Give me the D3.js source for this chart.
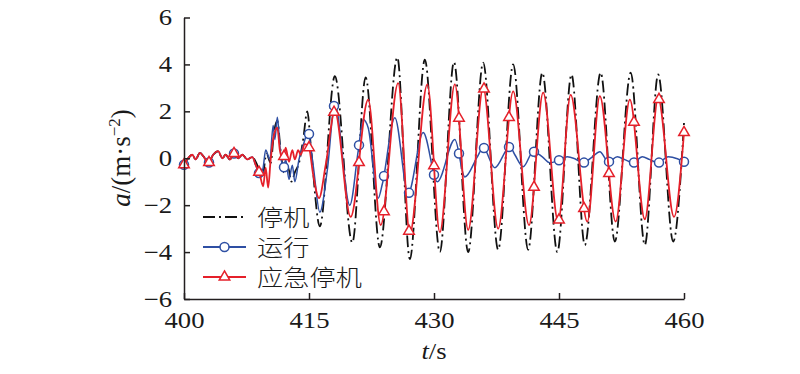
<!DOCTYPE html>
<html>
<head>
<meta charset="utf-8">
<script src="https://cdn.jsdelivr.net/npm/d3@7"></script>
<style>
  body { margin: 0; background: #fff; }
  svg text { fill: #1a1a1a; }
  .serif { font-family: "Liberation Serif", "Times New Roman", Times, "DejaVu Serif", serif; }
</style>
</head>
<body>
<div id="chart"></div>
<script>
// t (s), a (m/s^2); before ~409 s the three records lie on top of each other
const stopData = [
  [400,-0.28],[400.5,0],[401,0.15],[401.4,-0.05],[401.9,0.23],[402.4,0.05],[402.9,-0.2],
  [403.5,0.15],[404.1,0.3],[404.6,0],[405,0.15],[405.5,-0.05],[406,0.2],[406.5,0],[407,0.15],
  [407.6,-0.05],[408.2,0.05],[408.8,-0.3],[409.4,-0.8],[409.9,0.2],[410.4,-0.2],[410.8,1.1],
  [411.2,1.6],[411.6,0.3],[412,-0.6],[412.5,-0.4],[412.9,-1.0],[413.3,-0.6],[413.8,-0.2],
  [414.3,0.8],[414.8,2.0],[415.2,0.6],[416.3,-2.9],[418.1,3.5],[420.2,-3.6],[421.8,3.45],
  [423.5,-3.8],[425.6,4.3],[427.1,-4.3],[428.9,4.2],[430.7,-4.0],[432.4,4.1],[434.1,-4.0],
  [435.9,4.08],[437.7,-3.9],[439.5,4.0],[441.3,-3.9],[443.0,3.65],[444.8,-4.0],[446.5,3.57],
  [448.1,-3.7],[450.0,3.65],[451.7,-3.55],[453.6,3.65],[455.3,-3.7],[456.9,3.57],[458.7,-3.55],
  [460,1.5]
];
const runData = [
  [400,-0.28],[400.5,0],[401,0.15],[401.4,-0.05],[401.9,0.23],[402.4,0.05],[402.9,-0.2],
  [403.5,0.15],[404.1,0.3],[404.6,0],[405,0.15],[405.5,-0.05],[406,0.2],[406.5,0],[407,0.15],
  [407.6,-0.05],[408.2,0.05],[408.6,-0.3],[409.2,-0.7],[409.5,-0.4],[409.8,0.35],[410.3,-0.05],
  [410.7,1.4],[410.9,0.8],[411.2,1.75],[411.5,0.55],[411.9,-0.5],[412.2,-0.05],[412.6,-0.9],
  [413,-0.3],[413.3,-1.0],[413.8,-0.05],[414.3,0.55],[414.9,1.1],[415.5,-0.3],[416.3,-2.3],
  [417.2,-0.5],[418.1,2.3],[419.9,-2.0],[420.9,0.3],[421.5,1.65],[422.1,1.3],[423.3,-1.7],
  [423.8,-1.1],[425.3,1.73],[426.9,-1.5],[428.7,1.1],[430.4,-1.0],[432.5,0.8],[433.7,-0.8],
  [435.2,0.06],[435.9,0.45],[437.3,-0.4],[439.1,0.49],[439.7,0.15],[440.7,-0.36],[441.9,0.28],
  [443.0,0.06],[443.9,-0.19],[444.9,-0.1],[446.0,0.06],[446.9,-0.02],[447.9,-0.19],[449.0,0.06],
  [449.9,0.28],[450.9,-0.15],[452.0,0.06],[452.9,-0.06],[453.9,-0.19],[455.0,0.06],[455.9,-0.06],
  [456.9,-0.19],[458.1,0.06],[459.2,-0.02],[460,-0.15]
];
const emergencyData = [
  [400,-0.28],[400.5,0],[401,0.15],[401.4,-0.05],[401.9,0.23],[402.4,0.05],[402.9,-0.2],
  [403.5,0.15],[404.1,0.3],[404.6,0],[405,0.15],[405.5,-0.05],[406,0.2],[406.5,0],[407,0.15],
  [407.6,-0.05],[408.2,0.05],[408.6,-0.28],[409.1,-0.7],[409.5,-1.2],[409.8,-0.4],[410.1,-1.25],
  [410.4,-0.05],[410.8,1.0],[411.2,1.3],[411.5,0.35],[411.9,-0.05],[412.2,0.45],[412.6,-0.15],
  [413,0.35],[413.3,-0.05],[413.7,0.35],[414,0.15],[414.5,0.6],[415,0.45],[415.5,-0.7],
  [416.2,-1.7],[417,-0.3],[418.1,2.0],[420.0,-2.5],[422.1,2.5],[423.6,-2.85],[425.7,3.2],
  [427.1,-3.2],[429.2,3.15],[430.7,-3.15],[432.5,3.15],[434.1,-3.05],[435.9,3.0],[437.7,-3.0],
  [439.5,2.85],[441.4,-2.85],[443.1,2.8],[444.9,-2.7],[446.4,2.7],[448.4,-2.7],[449.9,2.65],
  [451.8,-2.7],[453.5,2.5],[455.3,-2.6],[456.9,2.55],[458.8,-2.5],[460,1.1]
];
const markerTimes = d3.range(400, 461, 3);
const xTicks = [400, 415, 430, 445, 460];
const yTicks = [-6, -4, -2, 0, 2, 4, 6];
const legendNames = ['停机', '运行', '应急停机'];

const black = '#111', blue = '#2e4fa3', red = '#e5202a', axisCol = '#231f20';
const stretch = 1.16;
const serif = '"Liberation Serif", "Times New Roman", Times, "DejaVu Serif", serif';

const svg = d3.select('#chart').append('svg')
  .attr('width', 800).attr('height', 374);

const x = d3.scaleLinear().domain([400, 460]).range([184, 684]);
const y = d3.scaleLinear().domain([-6, 6]).range([299, 17.5]);

const line = d3.line()
  .x(d => x(d[0])).y(d => y(d[1]))
  .curve(d3.curveMonotoneX);

// y at a given pixel x along a drawn path
function yOnPath(node, px) {
  let lo = 0, hi = node.getTotalLength();
  while (hi - lo > 0.3) {
    const mid = (lo + hi) / 2;
    if (node.getPointAtLength(mid).x < px) lo = mid; else hi = mid;
  }
  return node.getPointAtLength((lo + hi) / 2).y;
}

svg.append('path').datum(stopData)
  .attr('d', line).attr('fill', 'none')
  .attr('stroke', black).attr('stroke-width', 1.8)
  .attr('stroke-dasharray', '12,4,2,4');

const runPath = svg.append('path').datum(runData)
  .attr('d', line).attr('fill', 'none')
  .attr('stroke', blue).attr('stroke-width', 1.5);

svg.append('g').selectAll('circle')
  .data(markerTimes)
  .enter().append('circle')
  .attr('cx', d => x(d))
  .attr('cy', d => yOnPath(runPath.node(), x(d)))
  .attr('r', 4.5)
  .attr('fill', '#fff').attr('stroke', blue).attr('stroke-width', 1.5);

const emPath = svg.append('path').datum(emergencyData)
  .attr('d', line).attr('fill', 'none')
  .attr('stroke', red).attr('stroke-width', 1.8);

const tri = d3.symbol(d3.symbolTriangle, 48);
svg.append('g').selectAll('path')
  .data(markerTimes)
  .enter().append('path')
  .attr('d', tri)
  .attr('transform', d => 'translate(' + x(d) + ',' + yOnPath(emPath.node(), x(d)) + ')')
  .attr('fill', '#fff').attr('stroke', red).attr('stroke-width', 1.5);

// axes
const xAxis = d3.axisBottom(x).tickValues(xTicks).tickSizeInner(-6).tickSizeOuter(0).tickPadding(13);
const yAxis = d3.axisLeft(y).tickValues(yTicks).tickSizeInner(-6).tickSizeOuter(0).tickPadding(12);

const gx = svg.append('g').attr('transform', 'translate(0,299)').call(xAxis);
const gy = svg.append('g').attr('transform', 'translate(184,0)').call(yAxis);

[gx, gy].forEach(g => {
  g.attr('font-family', serif).attr('font-size', 23);
  g.selectAll('path, line').attr('stroke', axisCol).attr('stroke-width', 1.5);
  g.selectAll('text').attr('class', 'serif').attr('fill', '#1a1a1a');
});
gx.selectAll('text').attr('transform', 'scale(' + stretch + ',1)');
gy.selectAll('text')
  .attr('x', -12 / stretch)
  .attr('transform', 'scale(' + stretch + ',1)');

// axis titles
const xl = svg.append('text')
  .attr('class', 'serif')
  .attr('transform', 'translate(434,359) scale(' + stretch + ',1)')
  .attr('text-anchor', 'middle')
  .attr('font-size', 23);
xl.append('tspan').attr('font-style', 'italic').text('t');
xl.append('tspan').text('/s');

const yl = svg.append('text')
  .attr('class', 'serif')
  .attr('transform', 'translate(130,158) rotate(-90)')
  .attr('text-anchor', 'middle')
  .attr('font-size', 27);
yl.append('tspan').attr('font-style', 'italic').text('a');
yl.append('tspan').text('/(m·s');
yl.append('tspan').attr('dy', -10).attr('font-size', 17).text('−2');
yl.append('tspan').attr('dy', 10).text(')');

// legend
const legend = svg.append('g').attr('class', 'legend');
const rows = [
  { name: legendNames[0], color: black, dash: '12,4,2,4', mark: null },
  { name: legendNames[1], color: blue, dash: null, mark: 'circle' },
  { name: legendNames[2], color: red, dash: null, mark: 'tri' }
];
rows.forEach((r, i) => {
  const ly = 217 + i * 30;
  legend.append('line')
    .attr('x1', 203).attr('x2', 246).attr('y1', ly).attr('y2', ly)
    .attr('stroke', r.color).attr('stroke-width', 1.8)
    .attr('stroke-dasharray', r.dash);
  if (r.mark === 'circle') {
    legend.append('circle').attr('cx', 224.5).attr('cy', ly).attr('r', 4.5)
      .attr('fill', '#fff').attr('stroke', r.color).attr('stroke-width', 1.5);
  } else if (r.mark === 'tri') {
    legend.append('path').attr('d', tri)
      .attr('transform', 'translate(224.5,' + ly + ')')
      .attr('fill', '#fff').attr('stroke', r.color).attr('stroke-width', 1.5);
  }
  legend.append('text')
    .attr('transform', 'translate(257,' + (ly + 9) + ') scale(1.14,1)')
    .style('font-family', '"Noto Sans CJK SC", sans-serif')
    .style('font-size', '23px')
    .style('font-weight', 300)
    .text(r.name);
});
</script>
</body>
</html>
